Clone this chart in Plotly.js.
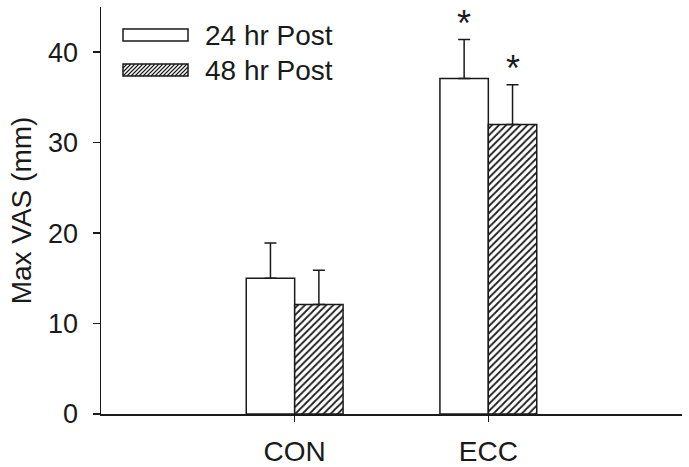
<!DOCTYPE html>
<html>
<head>
<meta charset="utf-8">
<script src="https://cdn.plot.ly/plotly-3.0.1.min.js"></script>
<style>
  html, body { margin:0; padding:0; background:#fff; }
  #chart { width:689px; height:467px; }
</style>
</head>
<body>
<div id="chart"></div>
<script>
// ---- Data ----
const groups = ['CON', 'ECC'];
const groupPos = [0, 1];
const seriesNames = ['24 hr Post', '48 hr Post'];
const series24 = [15.0, 37.1];
const err24 = [3.9, 4.3];
const series48 = [12.1, 32.0];
const err48 = [3.8, 4.4];
const starred24 = [false, true];
const starred48 = [false, true];

const FONT = 'Liberation Sans, Arial, sans-serif';
const INK = '#1a1a1a';
const W = 689, H = 467;
const M = { l: 101, r: 7, t: 7, b: 53 };

// pixel -> paper helpers (for the hand-built legend)
const px = x => (x - M.l) / (W - M.l - M.r);
const py = y => (H - M.b - y) / (H - M.t - M.b);

const hatch = { shape: '/', fgcolor: INK, bgcolor: '#fff', size: 5, solidity: 0.35 };

function barTrace(name, y, err, pattern){
  return {
    type: 'bar', name, x: groupPos, y,
    marker: {
      color: '#fff',
      line: { color: INK, width: 1.5 },
      pattern: pattern || { shape: '' }
    },
    error_y: {
      type: 'data', symmetric: false, array: err,
      arrayminus: err.map(()=>0),
      color: INK, thickness: 1.5, width: 6
    },
    showlegend: false,
    hoverinfo: 'skip'
  };
}

const traces = [
  barTrace(seriesNames[0], series24, err24),
  barTrace(seriesNames[1], series48, err48, hatch)
];

// asterisks above the significant bars
const stars = [];
groupPos.forEach((p, i)=>{
  if(starred24[i]) stars.push({ x: p - 0.125, y: series24[i] + err24[i] });
  if(starred48[i]) stars.push({ x: p + 0.125, y: series48[i] + err48[i] });
});
const annotations = stars.map(s=>({
  x: s.x, y: s.y, xref: 'x', yref: 'y', text: '*', showarrow: false,
  yshift: 16, font: { family: FONT, size: 36, color: INK }
}));

// legend: long swatches like the original figure
const shapes = [];
const sw = { x0: 123, x1: 188, h: 12 };
const rowY = [35, 70];
rowY.forEach((cy, i)=>{
  const y0 = cy - sw.h/2, y1 = cy + sw.h/2;
  shapes.push({
    type: 'rect', xref: 'paper', yref: 'paper',
    x0: px(sw.x0), x1: px(sw.x1), y0: py(y1), y1: py(y0),
    line: { color: INK, width: 1.5 }, fillcolor: '#fff'
  });
  if(i === 1){
    // diagonal hatch lines clipped to the swatch
    let d = '';
    for(let s = sw.x0 - sw.h; s < sw.x1; s += 4){
      let ax = s, ay = y1, bx = s + sw.h, by = y0;
      if(ax < sw.x0){ ay -= (sw.x0 - ax); ax = sw.x0; }
      if(bx > sw.x1){ by += (bx - sw.x1); bx = sw.x1; }
      if(bx <= ax) continue;
      d += `M${px(ax)},${py(ay)}L${px(bx)},${py(by)}`;
    }
    shapes.push({ type: 'path', xref: 'paper', yref: 'paper', path: d, line: { color: INK, width: 1.2 } });
  }
  annotations.push({
    x: px(203), y: py(cy), xref: 'paper', yref: 'paper', xanchor: 'left', yanchor: 'middle',
    text: seriesNames[i], showarrow: false, font: { family: FONT, size: 28, color: INK }
  });
});

const layout = {
  width: W, height: H,
  margin: M,
  paper_bgcolor: '#fff', plot_bgcolor: '#fff',
  font: { family: FONT, size: 28, color: INK },
  barmode: 'group', bargap: 0.5, bargroupgap: 0,
  showlegend: false,
  xaxis: {
    range: [-1, 2], tickvals: groupPos, ticktext: groups,
    showline: true, linecolor: INK, linewidth: 1.5,
    ticks: 'outside', ticklen: 6, tickwidth: 1.5, tickcolor: INK,
    ticklabelstandoff: 6,
    showgrid: false, zeroline: false,
    tickfont: { family: FONT, size: 28, color: INK }
  },
  yaxis: {
    range: [0, 45], tickvals: [0, 10, 20, 30, 40],
    showline: true, linecolor: INK, linewidth: 1.5,
    ticks: 'outside', ticklen: 7, tickwidth: 1.5, tickcolor: INK,
    ticklabelstandoff: 9,
    showgrid: false, zeroline: false,
    tickfont: { family: FONT, size: 27, color: INK },
    title: { text: 'Max VAS (mm)', font: { family: FONT, size: 28, color: INK }, standoff: 8 }
  },
  shapes,
  annotations
};

Plotly.newPlot('chart', traces, layout, { staticPlot: true, displayModeBar: false });
</script>
</body>
</html>
